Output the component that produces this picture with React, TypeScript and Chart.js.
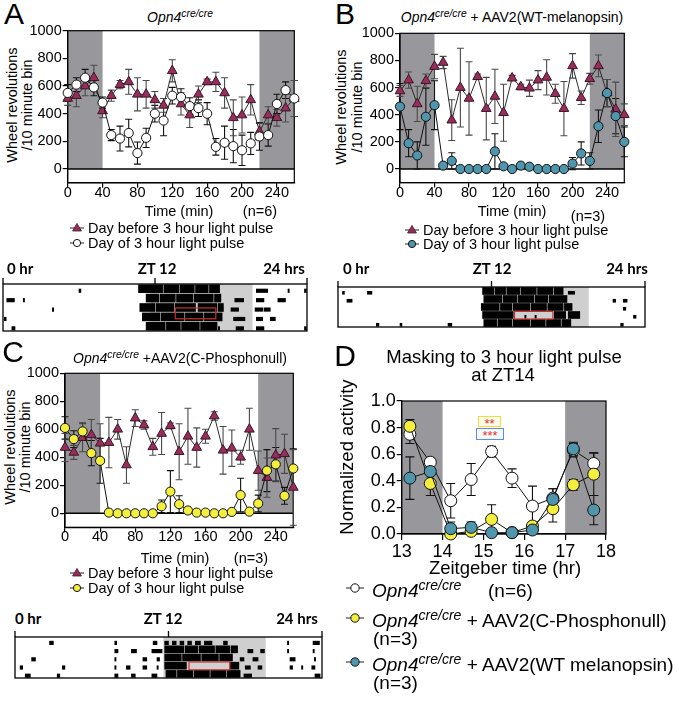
import React, { useEffect, useRef } from "react";
import { Chart, registerables } from "chart.js";
Chart.register(...registerables);

const SANS = '"Liberation Sans", Arial, Helvetica, sans-serif';
const CAL = 'Lato, "Open Sans", sans-serif';
Chart.defaults.font.family = SANS;

// ---------------- data ----------------
const TIME_MIN = [0, 10, 20, 30, 40, 50, 60, 70, 80, 90, 100, 110, 120, 130, 140, 150, 160, 170, 180, 190, 200, 210, 220, 230, 240, 250, 260];
const TIME_TICKS = [0, 40, 80, 120, 160, 200, 240];
const REV_TICKS = [0, 200, 400, 600, 800, 1000];
const DARK_MIN = [[0, 40], [220, 260]];

const A_BEFORE = [510, 530, 600, 660, 420, 530, 610, 630, 540, 540, 500, 460, 710, 470, 390, 540, 630, 630, 550, 370, 390, 500, 270, 390, 370, 440, 510];
const A_BEFORE_SEM = [50, 80, 70, 90, 50, 40, 30, 90, 120, 100, 60, 50, 80, 80, 90, 60, 20, 70, 110, 130, 130, 110, 60, 60, 60, 100, 130];
const A_PULSE = [550, 610, 660, 590, 480, 245, 220, 260, 115, 225, 400, 350, 530, 520, 455, 440, 400, 160, 190, 165, 135, 185, 235, 245, 470, 570, 510];
const A_PULSE_SEM = [60, 50, 60, 60, 40, 40, 90, 100, 80, 70, 60, 110, 60, 60, 60, 60, 80, 60, 120, 120, 110, 80, 100, 80, 70, 60, 130];

const B_BEFORE = [575, 655, 480, 650, 755, 785, 360, 600, 520, 680, 445, 535, 415, 670, 605, 595, 655, 675, 555, 445, 760, 525, 665, 760, 560, 440, 400];
const B_BEFORE_SEM = [40, 60, 130, 50, 90, 45, 150, 290, 270, 20, 230, 200, 210, 20, 20, 60, 70, 130, 70, 200, 90, 50, 40, 80, 100, 200, 80];
const B_PULSE = [460, 190, 100, 385, 470, 25, 60, 0, 0, 0, 0, 130, 20, 0, 25, 17, 0, 0, 0, 0, 40, 115, 60, 315, 560, 390, 200];
const B_PULSE_SEM = [170, 100, 100, 210, 180, 10, 60, 0, 0, 0, 0, 130, 10, 0, 20, 10, 0, 0, 0, 0, 45, 85, 60, 120, 100, 130, 110];

const C_BEFORE = [470, 435, 540, 560, 500, 505, 600, 345, 680, 630, 475, 570, 625, 440, 550, 470, 550, 695, 450, 465, 400, 600, 305, 255, 415, 425, 185];
const C_BEFORE_SEM = [100, 50, 100, 110, 140, 180, 70, 130, 60, 30, 60, 150, 20, 200, 200, 140, 50, 30, 170, 130, 50, 150, 140, 140, 190, 140, 270];
const C_PULSE = [610, 530, 585, 430, 375, 5, 0, 0, 0, 0, 0, 50, 155, 65, 20, 5, 5, 0, 0, 10, 130, 12, 70, 305, 350, 125, 320];
const C_PULSE_SEM = [80, 60, 60, 90, 160, 5, 0, 0, 0, 0, 0, 45, 150, 60, 10, 5, 5, 0, 0, 10, 120, 10, 60, 150, 120, 60, 140];

const ZT = [13.2, 13.7, 14.2, 14.7, 15.2, 15.7, 16.2, 16.7, 17.2, 17.7];
const ZT_TICKS = [13, 14, 15, 16, 17, 18];
const NORM_TICKS = [0, 0.2, 0.4, 0.6, 0.8, 1.0];
const ZT_DARK = [[13, 14], [17, 18]];
const D_KO = [0.75, 0.54, 0.25, 0.41, 0.62, 0.42, 0.21, 0.27, 0.63, 0.53];
const D_KO_SEM = [0.07, 0.03, 0.13, 0.12, 0.04, 0.07, 0.15, 0.07, 0.05, 0.08];
const D_PHOS = [0.81, 0.38, 0.0, 0.02, 0.11, 0.01, 0.06, 0.19, 0.37, 0.45];
const D_PHOS_SEM = [0.05, 0.09, 0.01, 0.02, 0.11, 0.01, 0.03, 0.1, 0.04, 0.16];
const D_WT = [0.42, 0.47, 0.04, 0.05, 0.01, 0.01, 0.03, 0.26, 0.64, 0.18];
const D_WT_SEM = [0.16, 0.08, 0.05, 0.04, 0.01, 0.01, 0.02, 0.08, 0.05, 0.11];

// actograms: activity bouts [start h, end h] per day row (BOUTS = heavy running, SPECKS = sparse activity)
const ACTO_HOUR_TICKS = [0, 12, 24];
const ACTO_A_BOUTS = [
  [[10.7, 12.6], [12.7, 13.9], [14.0, 15.1], [15.2, 16.2], [16.3, 17.1]],
  [[11.3, 12.3], [12.4, 13.6], [13.7, 15.0], [15.1, 16.6], [16.7, 17.2]],
  [[10.8, 12.0], [12.1, 13.5], [13.6, 15.2], [15.4, 16.9], [17.0, 17.4]],
  [[11.0, 12.4], [12.5, 14.3], [14.4, 15.8], [15.9, 17.3]],
  [[11.3, 12.8], [12.9, 14.0], [14.1, 15.5], [15.6, 16.9]],
];
const ACTO_A_SPECKS = [
  [[6.0, 6.15], [20.0, 20.9], [22.5, 22.6], [23.8, 23.95]],
  [[0.3, 0.9], [1.6, 1.7], [18.3, 19.0], [20.0, 20.6], [21.7, 22.3]],
  [[3.9, 4.0], [18.0, 18.6], [19.9, 20.5], [20.6, 21.1]],
  [[0.1, 0.25], [18.2, 19.1], [20.0, 20.5], [21.1, 21.5]],
  [[0.7, 0.95], [17.0, 17.1], [18.4, 19.0], [20.0, 20.6], [23.8, 23.95]],
];
const ACTO_A_GREY = [11.6, 19.7];
const ACTO_A_PULSE = [13.6, 16.8];
const ACTO_A_PULSE_ROWS = [2.05, 3.2];

const ACTO_B_BOUTS = [
  [[11.3, 12.2], [12.3, 13.1], [13.2, 14.2], [14.3, 15.5], [15.6, 16.8], [16.9, 17.6]],
  [[11.4, 12.8], [12.9, 14.0], [14.1, 15.3], [15.4, 16.4], [16.5, 17.9]],
  [[11.2, 12.6], [12.7, 13.6], [13.7, 15.0], [15.1, 16.3], [16.4, 17.6], [17.7, 18.3]],
  [[11.3, 13.7], [16.9, 17.8], [18.0, 18.9]],
  [[11.4, 12.4], [12.5, 13.6], [13.7, 15.0], [15.1, 16.2], [16.3, 17.4], [17.5, 18.2]],
];
const ACTO_B_SPECKS = [
  [[0.35, 0.5], [2.3, 2.65], [18.0, 18.5]],
  [[0.7, 1.1], [21.5, 21.7], [22.3, 22.6]],
  [[22.3, 22.5]],
  [[14.6, 14.7], [15.4, 15.5], [23.1, 23.3]],
  [[3.0, 3.2], [4.85, 5.0], [8.6, 8.9], [22.1, 22.3]],
];
const ACTO_B_GREY = [11.4, 19.6];
const ACTO_B_PULSE = [13.8, 16.8];
const ACTO_B_PULSE_ROWS = [2.55, 3.5];

const ACTO_C_BOUTS = [
  [],
  [[11.7, 13.2], [13.3, 14.3], [14.4, 15.6], [15.7, 16.8], [16.9, 17.4]],
  [[11.7, 13.0], [13.1, 14.5], [14.6, 15.9], [16.0, 17.0]],
  [[11.7, 13.4], [16.8, 17.5]],
  [[11.8, 12.6], [12.7, 13.9], [14.0, 15.2], [15.3, 16.5], [16.6, 17.6]],
];
const ACTO_C_SPECKS = [
  [[2.7, 3.0], [7.8, 7.95], [10.8, 11.1], [11.7, 12.0], [12.3, 12.6], [12.9, 13.2], [13.5, 13.8], [14.1, 14.5], [14.8, 15.4], [16.3, 16.6], [21.3, 21.4], [23.3, 23.8]],
  [[7.8, 8.05], [9.1, 9.5], [10.7, 11.5], [18.2, 18.6], [19.2, 19.5], [21.3, 21.4], [23.3, 23.4]],
  [[1.3, 1.6], [7.8, 7.9], [10.0, 10.3], [11.1, 11.3], [17.6, 17.9], [18.6, 19.0], [21.5, 21.9], [23.4, 23.5]],
  [[0.4, 0.6], [3.7, 3.9], [7.8, 7.9], [8.7, 9.0], [10.0, 10.3], [11.1, 11.2], [18.0, 18.4], [19.0, 19.3], [21.5, 21.7], [22.4, 22.5], [23.2, 23.45]],
  [[0.8, 1.2], [3.3, 3.5], [7.8, 8.05], [9.1, 9.4], [10.7, 11.1], [17.9, 18.5], [23.45, 23.85]],
];
const ACTO_C_GREY = [11.6, 19.6];
const ACTO_C_PULSE = [13.6, 16.8];
const ACTO_C_PULSE_ROWS = [2.55, 3.5];

// ---------------- styles ----------------
const MAROON = "#962d5a";
const TEAL = "#4f96ad";
const YELLOW = "#f4ee3f";
const SHADE = "#98989c";

type Plot = { l: number; t: number; r: number; b: number };

function useChartCanvas(makeConfig: () => any) {
  const ref = useRef<HTMLCanvasElement | null>(null);
  useEffect(() => {
    if (!ref.current) return;
    const chart = new Chart(ref.current, makeConfig());
    return () => chart.destroy();
  }, []);
  return ref;
}

const decorPlugin = {
  id: "decor",
  beforeDraw(chart: any, _a: any, opts: any) {
    const { ctx, scales } = chart;
    const x = scales.x, y = scales.y;
    ctx.save();
    ctx.fillStyle = opts.shadeColor;
    (opts.shades || []).forEach((s: number[]) => {
      const x0 = x.getPixelForValue(s[0]);
      const x1 = x.getPixelForValue(s[1]);
      const y0 = y.getPixelForValue(opts.shadeTop);
      const y1 = y.getPixelForValue(opts.shadeBottom);
      ctx.fillRect(x0, y0, x1 - x0, y1 - y0);
    });
    ctx.restore();
  },
  beforeDatasetsDraw(chart: any, _a: any, opts: any) {
    const { ctx, chartArea: a, scales } = chart;
    const y = scales.y;
    ctx.save();
    ctx.strokeStyle = "#000";
    ctx.lineWidth = 1.2;
    ctx.strokeRect(a.left, a.top, a.right - a.left, a.bottom - a.top);
    if (opts.zeroLine) {
      const yz = y.getPixelForValue(0);
      ctx.lineWidth = 1.6;
      ctx.beginPath();
      ctx.moveTo(a.left, yz);
      ctx.lineTo(a.right, yz);
      ctx.stroke();
    }
    ctx.restore();
  },
};

const errorBarPlugin = {
  id: "errorBars",
  beforeDatasetsDraw(chart: any) {
    const { ctx } = chart;
    const y = chart.scales.y;
    chart.data.datasets.forEach((d: any, i: number) => {
      if (!d.errors) return;
      const meta = chart.getDatasetMeta(i);
      ctx.save();
      ctx.strokeStyle = d.errColor || "#000";
      ctx.lineWidth = 1.1;
      meta.data.forEach((el: any, j: number) => {
        const e = d.errors[j];
        if (!e) return;
        const v = d.data[j].y;
        const px = el.x;
        const top = y.getPixelForValue(v + e);
        const bot = y.getPixelForValue(v - e);
        const w = d.capHalf || 3.5;
        ctx.beginPath();
        ctx.moveTo(px, top);
        ctx.lineTo(px, bot);
        ctx.moveTo(px - w, top);
        ctx.lineTo(px + w, top);
        ctx.moveTo(px - w, bot);
        ctx.lineTo(px + w, bot);
        ctx.stroke();
      });
      ctx.restore();
    });
  },
};

function makeSeries(label: string, xs: number[], ys: number[], sem: number[], kind: string, big = false) {
  const base: any = {
    label,
    data: xs.map((x, i) => ({ x, y: ys[i] })),
    errors: sem,
    clip: false,
    showLine: true,
    tension: 0,
    borderWidth: 1,
    borderColor: "#111",
    pointBorderWidth: 1,
    pointBorderColor: "#111",
    pointRadius: big ? 6 : 4.6,
    errColor: "#111",
    capHalf: big ? 4.5 : 3.5,
  };
  if (kind === "tri") {
    return { ...base, borderColor: "#2b2b2b", pointStyle: "triangle", pointRadius: 5.6, pointBackgroundColor: MAROON, pointBorderColor: "#3d1527", errColor: "#4a4a4a" };
  }
  if (kind === "open") return { ...base, pointStyle: "circle", pointBackgroundColor: "#fff" };
  if (kind === "teal") return { ...base, pointStyle: "circle", pointBackgroundColor: TEAL };
  return { ...base, pointStyle: "circle", pointBackgroundColor: YELLOW };
}

function XYChart(props: {
  plot: Plot;
  datasets: any[];
  xMin: number; xMax: number; yMin: number; yMax: number;
  xTicks: number[]; yTicks: number[];
  shades: number[][]; shadeTop: number; shadeBottom: number;
  zeroLine: boolean; fontSize: number; decimals: number;
  xTickPad: number; xLine: number; tickLen: number;
}) {
  const { plot } = props;
  const ML = 80, MT = 24, MR = 26, MB = 44;
  const left0 = Math.floor(plot.l) - ML;
  const top0 = Math.floor(plot.t) - MT;
  const w = Math.ceil(plot.r) + MR - left0;
  const h = Math.ceil(plot.b) + MB - top0;
  const ref = useChartCanvas(() => ({
    type: "line",
    data: { datasets: props.datasets },
    options: {
      animation: false,
      responsive: false,
      devicePixelRatio: 1,
      layout: { padding: { left: 0, top: plot.t - top0, right: left0 + w - plot.r, bottom: 0 } },
      plugins: {
        legend: { display: false },
        tooltip: { enabled: false },
        decor: { shades: props.shades, shadeTop: props.shadeTop, shadeBottom: props.shadeBottom, zeroLine: props.zeroLine, shadeColor: SHADE },
      },
      scales: {
        x: {
          type: "linear",
          min: props.xMin,
          max: props.xMax,
          afterFit: (s: any) => { s.height = top0 + h - plot.b; },
          afterBuildTicks: (s: any) => { s.ticks = props.xTicks.map((v) => ({ value: v })); },
          grid: { display: true, drawOnChartArea: false, drawTicks: true, tickLength: props.tickLen, color: "#000", lineWidth: 1.2 },
          border: { display: true, color: "#000", width: 1.2 },
          ticks: { color: "#000", font: { size: props.fontSize, family: SANS, lineHeight: props.xLine }, padding: props.xTickPad, maxRotation: 0, autoSkip: false, callback: (v: any) => String(v) },
        },
        y: {
          type: "linear",
          min: props.yMin,
          max: props.yMax,
          afterFit: (s: any) => { s.width = plot.l - left0; },
          afterBuildTicks: (s: any) => { s.ticks = props.yTicks.map((v) => ({ value: v })); },
          grid: { display: true, drawOnChartArea: false, drawTicks: true, tickLength: 5, color: "#000", lineWidth: 1.2 },
          border: { display: true, color: "#000", width: 1.2 },
          ticks: { color: "#000", font: { size: props.fontSize, family: SANS }, padding: 1, autoSkip: false, callback: (v: any) => Number(v).toFixed(props.decimals) },
        },
      },
    },
    plugins: [decorPlugin, errorBarPlugin],
  }));
  return <canvas ref={ref} width={w} height={h} style={{ position: "absolute", left: left0, top: top0, width: w, height: h }} />;
}

const actoPlugin = {
  id: "acto",
  beforeDraw(chart: any, _a: any, o: any) {
    const { ctx, chartArea: a, scales } = chart;
    const x0 = scales.x.getPixelForValue(o.grey[0]);
    const x1 = scales.x.getPixelForValue(o.grey[1]);
    ctx.save();
    ctx.fillStyle = "#cfcfcf";
    ctx.fillRect(x0, a.top, x1 - x0, a.bottom - a.top);
    ctx.restore();
  },
  afterDatasetsDraw(chart: any, _a: any, o: any) {
    const { ctx, chartArea: a, scales } = chart;
    const x = scales.x, y = scales.y;
    ctx.save();
    const px0 = x.getPixelForValue(o.pulse[0]);
    const px1 = x.getPixelForValue(o.pulse[1]);
    const py0 = y.getPixelForValue(o.pulseRows[0]);
    const py1 = y.getPixelForValue(o.pulseRows[1]);
    ctx.strokeStyle = "#c8322a";
    ctx.lineWidth = 1.2;
    ctx.strokeRect(px0, py0, px1 - px0, py1 - py0);
    ctx.strokeStyle = "#000";
    ctx.lineWidth = 1.3;
    ctx.strokeRect(a.left, a.top, a.right - a.left, a.bottom - a.top);
    ctx.beginPath();
    o.ticks.forEach((t: number) => {
      const px = x.getPixelForValue(t);
      ctx.moveTo(px, a.top);
      ctx.lineTo(px, a.top - 6);
    });
    ctx.stroke();
    ctx.restore();
  },
};

function Actogram(props: { box: Plot; bouts: number[][][]; specks: number[][][]; grey: number[]; pulse: number[]; pulseRows: number[]; barH: number; speckH: number }) {
  const { box } = props;
  const P = 8;
  const left0 = Math.floor(box.l) - P;
  const top0 = Math.floor(box.t) - P;
  const w = Math.ceil(box.r) + P - left0;
  const h = Math.ceil(box.b) + P - top0;
  const ref = useChartCanvas(() => ({
    type: "bar",
    data: {
      datasets: [
        {
          data: props.bouts.flatMap((segs, r) => segs.map((s) => ({ x: [s[0], s[1]], y: r }))),
          backgroundColor: "#000",
          borderWidth: 0,
          barThickness: props.barH,
          grouped: false,
        },
        {
          data: props.specks.flatMap((segs, r) => segs.map((s) => ({ x: [s[0], s[1]], y: r + 0.22 }))),
          backgroundColor: "#000",
          borderWidth: 0,
          barThickness: props.speckH,
          grouped: false,
        },
      ],
    },
    options: {
      animation: false,
      responsive: false,
      devicePixelRatio: 1,
      indexAxis: "y",
      layout: { padding: { left: box.l - left0, top: box.t - top0, right: left0 + w - box.r, bottom: top0 + h - box.b } },
      plugins: {
        legend: { display: false },
        tooltip: { enabled: false },
        acto: { grey: props.grey, pulse: props.pulse, pulseRows: props.pulseRows, ticks: ACTO_HOUR_TICKS },
      },
      scales: {
        x: { type: "linear", min: 0, max: 24, display: false, offset: false },
        y: { type: "linear", min: -0.5, max: props.bouts.length - 0.5, reverse: true, display: false, offset: false, grid: { offset: false } },
      },
    },
    plugins: [actoPlugin],
  }));
  return <canvas ref={ref} width={w} height={h} style={{ position: "absolute", left: left0, top: top0, width: w, height: h }} />;
}

// ---------------- text helpers ----------------
function T(p: { x: number; y: number; size: number; children: any; anchor?: string; rot?: boolean; family?: string; weight?: number; color?: string }) {
  const tx = p.anchor === "start" ? "0" : p.anchor === "end" ? "-100%" : "-50%";
  return (
    <div
      style={{
        position: "absolute",
        left: p.x,
        top: p.y,
        transform: `translate(${tx},-50%)${p.rot ? " rotate(-90deg)" : ""}`,
        transformOrigin: p.rot ? "center" : undefined,
        fontSize: p.size,
        lineHeight: 1,
        whiteSpace: "nowrap",
        fontFamily: p.family || SANS,
        fontWeight: p.weight || 400,
        color: p.color || "#000",
      }}
    >
      {p.children}
    </div>
  );
}

const Sup = ({ children }: any) => <span style={{ fontSize: "0.74em", position: "relative", top: "-0.5em" }}>{children}</span>;
const Opn = () => (
  <i>
    Opn4<Sup>cre/cre</Sup>
  </i>
);

function Marker({ x, y, kind, big }: { x: number; y: number; kind: string; big?: boolean }) {
  const W = big ? 18 : 14;
  const H = 14;
  const c = W / 2;
  const r = big ? 4.2 : 3.6;
  const fill = kind === "tri" ? MAROON : kind === "teal" ? TEAL : kind === "yellow" ? YELLOW : "#fff";
  return (
    <svg width={W} height={H} style={{ position: "absolute", left: x - c, top: y - H / 2 }}>
      <line x1={0} y1={H / 2} x2={W} y2={H / 2} stroke="#222" strokeWidth={1} />
      {kind === "tri" ? (
        <polygon points={`${c},${H / 2 - 4.6} ${c + 4.4},${H / 2 + 3} ${c - 4.4},${H / 2 + 3}`} fill={fill} stroke="#3d1527" strokeWidth={0.8} />
      ) : (
        <circle cx={c} cy={H / 2} r={r} fill={fill} stroke="#111" strokeWidth={1} />
      )}
    </svg>
  );
}

function LineLegend({ x, y1, y2, kind2 }: { x: number; y1: number; y2: number; kind2: string }) {
  return (
    <>
      <Marker x={x} y={y1} kind="tri" />
      <T x={x + 11} y={y1} size={14.5} anchor="start">Day before 3 hour light pulse</T>
      <Marker x={x} y={y2} kind={kind2} />
      <T x={x + 11} y={y2} size={14.5} anchor="start">Day of 3 hour light pulse</T>
    </>
  );
}

function YTitle({ x1, x2, y }: { x1: number; x2: number; y: number }) {
  return (
    <>
      <T x={x1} y={y} size={14.5} rot>Wheel revolutions</T>
      <T x={x2} y={y} size={14.5} rot>/10 minute bin</T>
    </>
  );
}

const revScale = { xMin: 0, xMax: 260, yMin: -100, yMax: 1000, xTicks: TIME_TICKS, yTicks: REV_TICKS, shades: DARK_MIN, shadeTop: 1000, shadeBottom: 0, zeroLine: true, fontSize: 14.5, decimals: 0, xTickPad: 0, xLine: 0.7, tickLen: 5 };

export default function App() {
  return (
    <div style={{ position: "absolute", left: 0, top: 0, width: 677, height: 703, background: "#fff", overflow: "hidden", fontFamily: SANS, color: "#000" }}>
      {/* Panel A */}
      <T x={14} y={14} size={30}>A</T>
      <T x={180} y={17} size={14}><Opn /></T>
      <YTitle x1={11.5} x2={27} y={105} />
      <XYChart
        plot={{ l: 67.7, t: 30.7, r: 294.3, b: 182.8 }}
        datasets={[
          makeSeries("Day of 3 hour light pulse", TIME_MIN, A_PULSE, A_PULSE_SEM, "open"),
          makeSeries("Day before 3 hour light pulse", TIME_MIN, A_BEFORE, A_BEFORE_SEM, "tri"),
        ]}
        {...revScale}
      />
      <T x={179} y={211} size={14.5}>Time (min)</T>
      <T x={260} y={211} size={14.5}>(n=6)</T>
      <LineLegend x={77} y1={228} y2={243} kind2="open" />

      {/* Panel B */}
      <T x={345} y={14} size={30}>B</T>
      <T x={512} y={17} size={14}><Opn /> + AAV2(WT-melanopsin)</T>
      <YTitle x1={341} x2={357} y={107} />
      <XYChart
        plot={{ l: 400, t: 33.3, r: 624.3, b: 182.6 }}
        datasets={[
          makeSeries("Day of 3 hour light pulse", TIME_MIN, B_PULSE, B_PULSE_SEM, "teal"),
          makeSeries("Day before 3 hour light pulse", TIME_MIN, B_BEFORE, B_BEFORE_SEM, "tri"),
        ]}
        {...revScale}
      />
      <T x={512} y={211} size={14.5}>Time (min)</T>
      <T x={588} y={216} size={14.5}>(n=3)</T>
      <LineLegend x={412} y1={230} y2={244} kind2="teal" />

      {/* Actograms A and B */}
      <T x={7} y={268} size={15} anchor="start" family={CAL} weight={700}>0 hr</T>
      <T x={157} y={268} size={15} family={CAL} weight={700}>ZT 12</T>
      <T x={284} y={268} size={15} family={CAL} weight={700}>24 hrs</T>
      <Actogram box={{ l: 3, t: 284, r: 307, b: 331 }} bouts={ACTO_A_BOUTS} specks={ACTO_A_SPECKS} grey={ACTO_A_GREY} pulse={ACTO_A_PULSE} pulseRows={ACTO_A_PULSE_ROWS} barH={8} speckH={3.5} />
      <T x={343} y={268} size={15} anchor="start" family={CAL} weight={700}>0 hr</T>
      <T x={492} y={268} size={15} family={CAL} weight={700}>ZT 12</T>
      <T x={627} y={268} size={15} family={CAL} weight={700}>24 hrs</T>
      <Actogram box={{ l: 338, t: 287, r: 645, b: 327 }} bouts={ACTO_B_BOUTS} specks={ACTO_B_SPECKS} grey={ACTO_B_GREY} pulse={ACTO_B_PULSE} pulseRows={ACTO_B_PULSE_ROWS} barH={7} speckH={3} />

      {/* Panel C */}
      <T x={13} y={352} size={30}>C</T>
      <T x={180} y={358} size={14}><Opn /> +AAV2(C-Phosphonull)</T>
      <YTitle x1={10} x2={25} y={447} />
      <XYChart
        plot={{ l: 65, t: 373.3, r: 293.3, b: 527.3 }}
        datasets={[
          makeSeries("Day of 3 hour light pulse", TIME_MIN, C_PULSE, C_PULSE_SEM, "yellow"),
          makeSeries("Day before 3 hour light pulse", TIME_MIN, C_BEFORE, C_BEFORE_SEM, "tri"),
        ]}
        {...revScale}
      />
      <T x={175} y={558} size={14.5}>Time (min)</T>
      <T x={251} y={558} size={14.5}>(n=3)</T>
      <LineLegend x={77} y1={573} y2={588} kind2="yellow" />

      {/* Actogram C */}
      <T x={15} y={618} size={15} anchor="start" family={CAL} weight={700}>0 hr</T>
      <T x={163} y={618} size={15} family={CAL} weight={700}>ZT 12</T>
      <T x={297} y={618} size={15} family={CAL} weight={700}>24 hrs</T>
      <Actogram box={{ l: 15, t: 637, r: 322, b: 678 }} bouts={ACTO_C_BOUTS} specks={ACTO_C_SPECKS} grey={ACTO_C_GREY} pulse={ACTO_C_PULSE} pulseRows={ACTO_C_PULSE_ROWS} barH={7} speckH={3.5} />

      {/* Panel D */}
      <T x={345} y={356} size={30}>D</T>
      <T x={504} y={357} size={18.5}>Masking to 3 hour light pulse</T>
      <T x={503} y={375} size={18.5}>at ZT14</T>
      <T x={347} y={457} size={18.5} rot>Normalized activity</T>
      <XYChart
        plot={{ l: 401.7, t: 401, r: 606, b: 534 }}
        datasets={[
          makeSeries("WT melanopsin", ZT, D_WT, D_WT_SEM, "teal", true),
          makeSeries("C-Phosphonull", ZT, D_PHOS, D_PHOS_SEM, "yellow", true),
          makeSeries("Opn4 cre/cre", ZT, D_KO, D_KO_SEM, "open", true),
        ]}
        xMin={13} xMax={18} yMin={0} yMax={1} xTicks={ZT_TICKS} yTicks={NORM_TICKS}
        shades={ZT_DARK} shadeTop={1} shadeBottom={0} zeroLine={false}
        fontSize={18} decimals={1} xTickPad={3} xLine={1} tickLen={6}
      />
      <T x={505} y={568} size={18.5}>Zeitgeber time (hr)</T>
      <div style={{ position: "absolute", left: 478, top: 416, width: 21, height: 9, border: "1.5px solid #f0dc3c", background: "#fffbe6", color: "#e0322f", fontSize: 13, lineHeight: "13px", textAlign: "center", overflow: "hidden" }}>**</div>
      <div style={{ position: "absolute", left: 476, top: 428, width: 26, height: 10, border: "1.5px solid #5a8fdc", background: "#f4f8ff", color: "#e0322f", fontSize: 13, lineHeight: "14px", textAlign: "center", overflow: "hidden" }}>***</div>

      <Marker x={355} y={588} kind="open" big />
      <T x={372} y={590} size={19} anchor="start"><Opn /></T>
      <T x={488} y={590} size={19} anchor="start">(n=6)</T>
      <Marker x={355} y={618} kind="yellow" big />
      <T x={372} y={620} size={19} anchor="start"><Opn /> + AAV2(C-Phosphonull)</T>
      <T x={373} y={638} size={19} anchor="start">(n=3)</T>
      <Marker x={355} y={662} kind="teal" big />
      <T x={372} y={664} size={19} anchor="start"><Opn /> + AAV2(WT melanopsin)</T>
      <T x={373} y={682} size={19} anchor="start">(n=3)</T>
    </div>
  );
}
